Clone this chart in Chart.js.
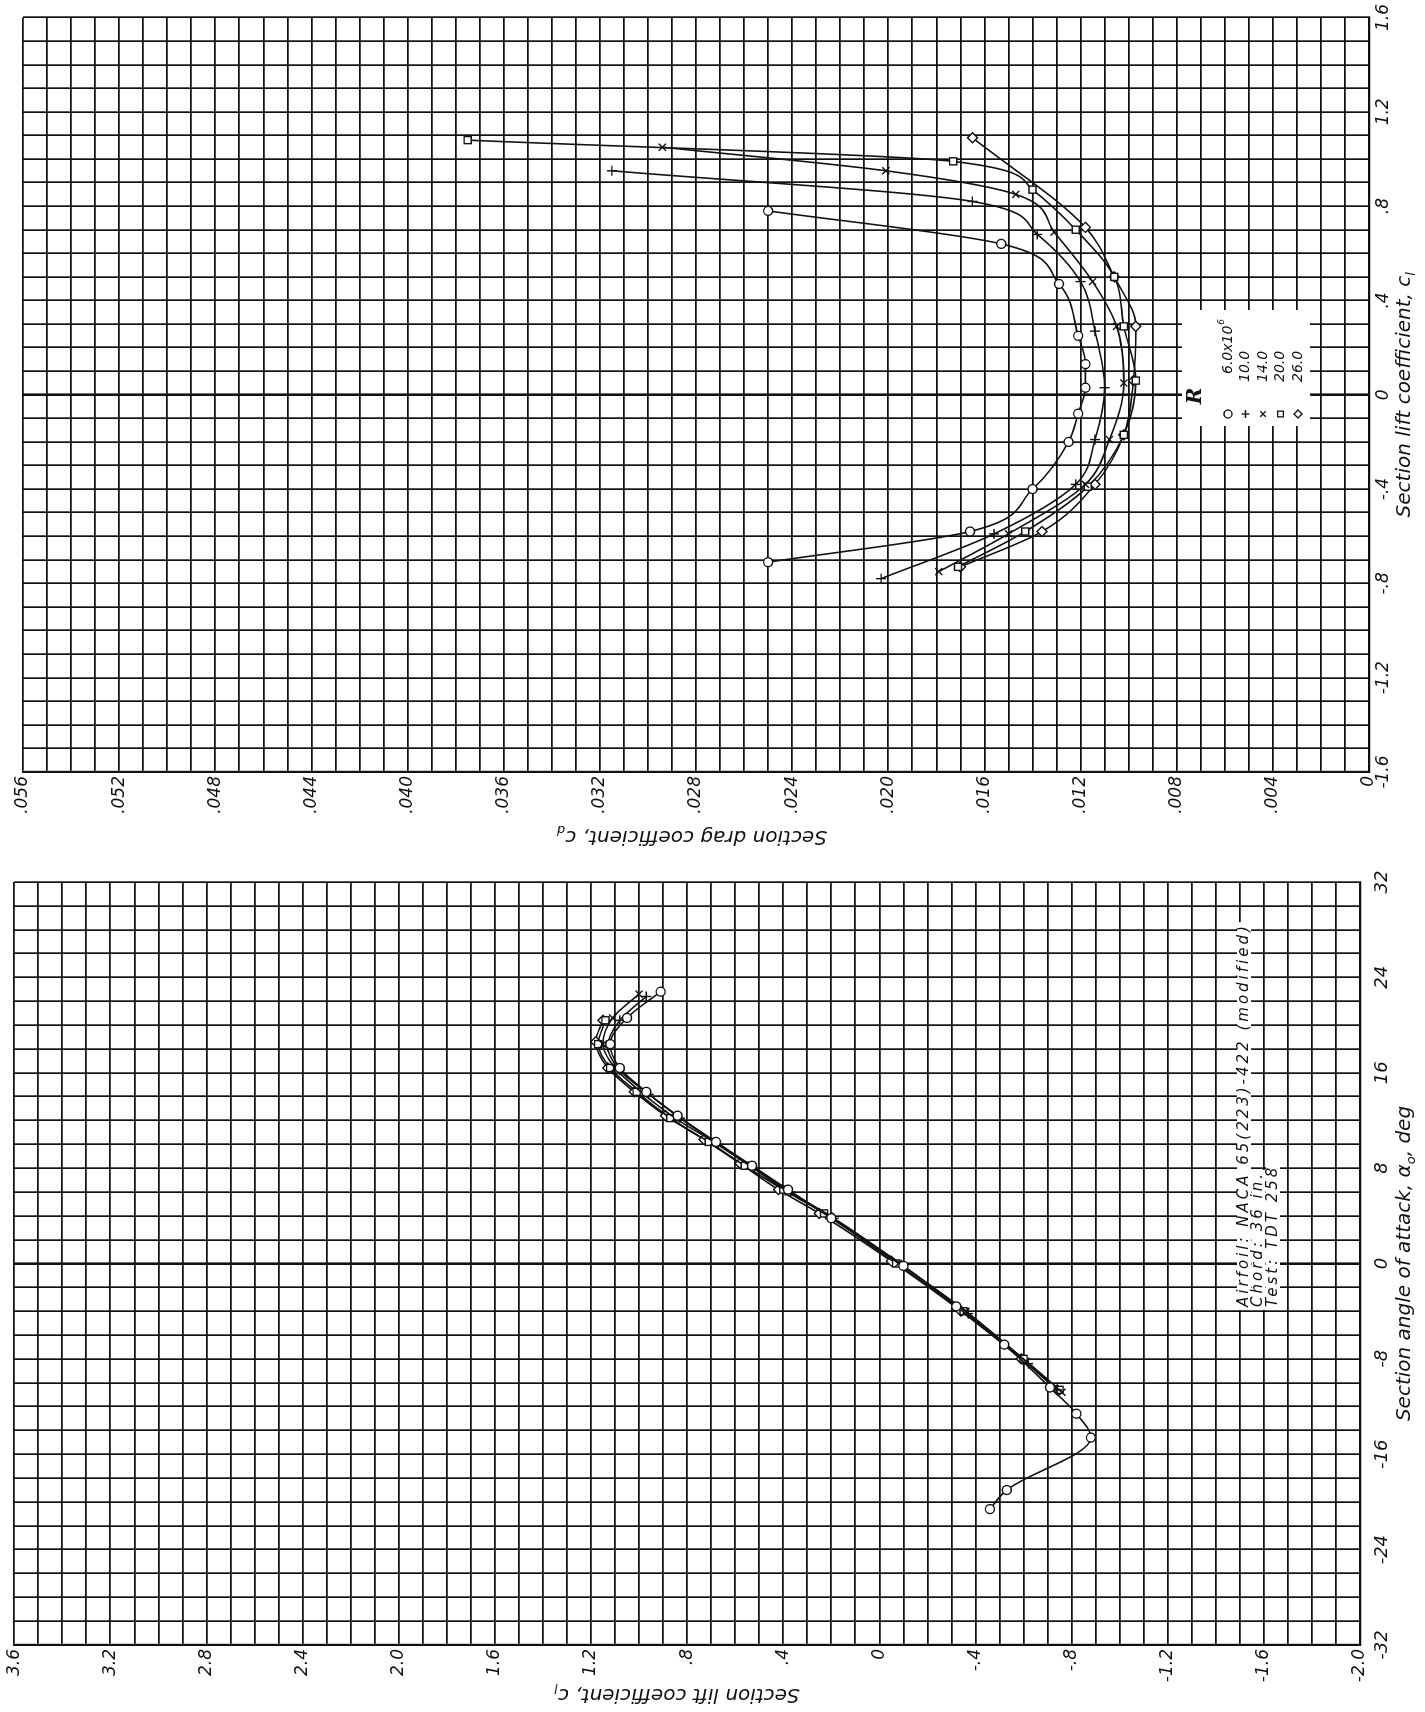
<!DOCTYPE html>
<html>
<head>
<meta charset="utf-8">
<script src="https://cdn.jsdelivr.net/npm/chart.js@4.4.1/dist/chart.umd.min.js"></script>
<style>
  html, body { margin: 0; padding: 0; background: #fff; }
  body { width: 1425px; height: 1712px; overflow: hidden; position: relative; }
  /* the sheet is drawn landscape and turned a quarter turn, like the printed page */
  #page { position: absolute; left: 0; top: 0; width: 1712px; height: 1425px;
          transform-origin: 0 0; transform: translate(0px, 1712px) rotate(-90deg); }
  #liftCanvas { position: absolute; left: 0; top: 0; }
  #dragCanvas { position: absolute; left: 860px; top: 0; }
</style>
</head>
<body>
<div id="page">
  <canvas id="liftCanvas" width="880" height="1425"></canvas>
  <canvas id="dragCanvas" width="852" height="1425"></canvas>
</div>
<script>
// ---- lift curves: angle of attack (deg) and section lift coefficient ----
const liftAlpha6  = [-20.6, -19.0, -14.6, -12.6, -10.4, -6.8, -3.6, -0.2, 3.8, 6.2, 8.2, 10.2, 12.4, 14.4, 16.4, 18.4, 20.6, 22.8];
const liftCl6     = [-0.46, -0.53, -0.88, -0.82, -0.71, -0.52, -0.32, -0.10, 0.20, 0.38, 0.53, 0.68, 0.84, 0.97, 1.08, 1.12, 1.05, 0.91];
const liftAlpha10 = [-10.6, -8.4, -4.2, -0.2, 3.8, 6.0, 8.0, 10.0, 12.2, 14.2, 16.2, 18.2, 20.4, 22.4];
const liftCl10    = [-0.74, -0.62, -0.37, -0.10, 0.19, 0.37, 0.52, 0.67, 0.83, 0.96, 1.08, 1.13, 1.08, 0.97];
const liftAlpha14 = [-10.8, -8.2, -4.0, 0.0, 4.0, 6.0, 8.2, 10.2, 12.2, 14.2, 16.4, 18.4, 20.6, 22.6];
const liftCl14    = [-0.76, -0.61, -0.36, -0.08, 0.21, 0.38, 0.54, 0.69, 0.85, 0.98, 1.10, 1.15, 1.11, 1.00];
const liftAlpha20 = [-10.6, -8.0, -4.0, 0.0, 4.2, 6.2, 8.2, 10.2, 12.2, 14.4, 16.4, 18.4, 20.4];
const liftCl20    = [-0.75, -0.60, -0.35, -0.07, 0.23, 0.40, 0.56, 0.71, 0.87, 1.01, 1.12, 1.17, 1.14];
const liftAlpha26 = [-10.6, -8.0, -4.0, 0.2, 4.2, 6.2, 8.4, 10.4, 12.4, 14.4, 16.4, 18.6, 20.4];
const liftCl26    = [-0.74, -0.59, -0.34, -0.05, 0.25, 0.42, 0.58, 0.73, 0.89, 1.02, 1.13, 1.18, 1.15];

// ---- drag polars: section lift coefficient and section drag coefficient ----
const polarCl6  = [-0.71, -0.58, -0.40, -0.20, -0.08, 0.03, 0.13, 0.25, 0.47, 0.64, 0.78];
const polarCd6  = [0.0250, 0.0166, 0.0140, 0.0125, 0.0121, 0.0118, 0.0118, 0.0121, 0.0129, 0.0153, 0.0250];
const polarCl10 = [-0.78, -0.59, -0.38, -0.19, 0.03, 0.27, 0.48, 0.68, 0.82, 0.95];
const polarCd10 = [0.0203, 0.0156, 0.0122, 0.0114, 0.0110, 0.0114, 0.0120, 0.0138, 0.0165, 0.0315];
const polarCl14 = [-0.75, -0.59, -0.38, -0.19, 0.05, 0.29, 0.48, 0.69, 0.85, 0.95, 1.05];
const polarCd14 = [0.0179, 0.0150, 0.0118, 0.0108, 0.0102, 0.0105, 0.0115, 0.0131, 0.0147, 0.0201, 0.0294];
const polarCl20 = [-0.73, -0.58, -0.39, -0.17, 0.06, 0.29, 0.50, 0.70, 0.87, 0.99, 1.08];
const polarCd20 = [0.0171, 0.0143, 0.0117, 0.0102, 0.0097, 0.0102, 0.0106, 0.0122, 0.0140, 0.0173, 0.0375];
const polarCl26 = [-0.73, -0.58, -0.38, -0.17, 0.06, 0.29, 0.50, 0.71, 1.09];
const polarCd26 = [0.0170, 0.0136, 0.0114, 0.0102, 0.0098, 0.0097, 0.0106, 0.0118, 0.0165];

// ---- legend and notes ----
const reynoldsLabels = ['6.0x10', '10.0', '14.0', '20.0', '26.0'];
const markerStyles = ['circle', 'cross', 'crossRot', 'rect', 'rectRot'];
const noteLines = ['Airfoil: NACA 65(223)-422 (modified)', 'Chord: 36 in.', 'Test: TDT 258'];

const FONT = 'DejaVu Sans';
const INK = '#111';

function fmtCoef(v) {
    // 0.8 -> ".8", -1.2 -> "-1.2", 2.0 -> "2.0"
    if (Math.abs(v) < 1e-9) return '0';
    let s = Math.abs(v).toFixed(1);
    if (s.startsWith('0')) s = s.slice(1);
    return (v < 0 ? '-' : '') + s;
}

function fmtDrag(v) {
    if (Math.abs(v) < 1e-9) return '0';
    return v.toFixed(3).slice(1);
}

function makeSeries(label, xs, ys, style) {
    return {
        label: label,
        data: xs.map((x, i) => ({ x: x, y: ys[i] })),
        showLine: true,
        borderColor: INK,
        borderWidth: 1.6,
        pointStyle: style,
        pointRadius: style === 'circle' ? 4.5 : 5,
        pointBackgroundColor: '#fff',
        pointBorderColor: INK,
        pointBorderWidth: 1.4,
        cubicInterpolationMode: 'monotone',
        fill: false
    };
}

// draw a label made of normal / subscript / superscript pieces, centred at (x, y)
function drawParts(ctx, parts, x, y, rot, size) {
    ctx.save();
    ctx.translate(x, y);
    ctx.rotate(rot);
    ctx.fillStyle = INK;
    ctx.textBaseline = 'middle';
    ctx.textAlign = 'left';
    const widths = parts.map(p => {
        ctx.font = 'italic ' + (p[1] === 'n' ? size : size * 0.65) + 'px "' + FONT + '"';
        return ctx.measureText(p[0]).width;
    });
    let cx = -widths.reduce((a, b) => a + b, 0) / 2;
    parts.forEach((p, i) => {
        const small = p[1] !== 'n';
        ctx.font = 'italic ' + (small ? size * 0.65 : size) + 'px "' + FONT + '"';
        const dy = p[1] === 'sub' ? size * 0.35 : (p[1] === 'sup' ? -size * 0.4 : 0);
        ctx.fillText(p[0], cx, dy);
        cx += widths[i];
    });
    ctx.restore();
}

function coefScale(min, max, fmt, step, every, font, heavyZero) {
    return {
        type: 'linear', min: min, max: max,
        grid: {
            color: INK, drawTicks: false,
            lineWidth: c => (heavyZero && Math.abs(c.tick.value) < 1e-9 ? 2.6 : 1.7)
        },
        border: { color: INK, width: 2.2 },
        ticks: {
            stepSize: step, autoSkip: false, maxTicksLimit: 200, maxRotation: 0,
            color: INK, font: { family: FONT, size: font, style: 'italic' },
            callback: v => (Math.abs(Math.round(v / step) % every) === 0 ? fmt(v) : '')
        }
    };
}

// ------------------- lift chart (left half of the sheet) -------------------
const liftNotes = {
    id: 'liftNotes',
    afterDraw(chart) {
        const ctx = chart.ctx;
        const a = chart.chartArea;
        drawParts(ctx, [['Section lift coefficient, c', 'n'], ['l', 'sub']], 18, 677, -Math.PI / 2, 20);
        drawParts(ctx, [['Section angle of attack, ', 'n'], ['\u03b1', 'n'], ['o', 'sub'], [', deg', 'n']],
            (a.left + a.right) / 2, 1405, 0, 20);
        // test notes with a white box behind each line
        ctx.save();
        ctx.font = 'italic 15px "' + FONT + '"';
        ctx.letterSpacing = '3px';
        ctx.textBaseline = 'middle';
        noteLines.forEach((t, i) => {
            const y = 1244 + i * 14.5;
            const w = ctx.measureText(t).width;
            ctx.fillStyle = '#fff';
            ctx.fillRect(402, y - 7, w + 4, 14);
            ctx.fillStyle = INK;
            ctx.fillText(t, 405, y);
        });
        ctx.restore();
    }
};

const liftX = coefScale(-32, 32, v => String(Math.round(v)), 2, 4, 18, true);
liftX.ticks.padding = 12;
liftX.afterFit = s => { s.height = 65; };
const liftY = coefScale(-2.0, 3.6, fmtCoef, 0.1, 4, 17, false);
liftY.ticks.padding = 4;
liftY.afterFit = s => { s.width = 67; };

new Chart(document.getElementById('liftCanvas'), {
    type: 'scatter',
    data: {
        datasets: [
            makeSeries('6.0', liftAlpha6, liftCl6, markerStyles[0]),
            makeSeries('10.0', liftAlpha10, liftCl10, markerStyles[1]),
            makeSeries('14.0', liftAlpha14, liftCl14, markerStyles[2]),
            makeSeries('20.0', liftAlpha20, liftCl20, markerStyles[3]),
            makeSeries('26.0', liftAlpha26, liftCl26, markerStyles[4])
        ]
    },
    options: {
        responsive: false,
        devicePixelRatio: 1,
        animation: false,
        layout: { padding: { left: 0, right: 50, top: 13, bottom: 0 } },
        plugins: { legend: { display: false }, tooltip: { enabled: false } },
        scales: { x: liftX, y: liftY }
    },
    plugins: [liftNotes]
});

// ------------------- drag polar (right half of the sheet) -------------------
const dragNotes = {
    id: 'dragNotes',
    afterDraw(chart) {
        const ctx = chart.ctx;
        const a = chart.chartArea;
        drawParts(ctx, [['Section drag coefficient, c', 'n'], ['d', 'sub']], 16, 692, -Math.PI / 2, 20);
        drawParts(ctx, [['Section lift coefficient, c', 'n'], ['l', 'sub']], (a.left + a.right) / 2, 1405, 0, 20);

        // legend box: R over the five Reynolds numbers
        ctx.save();
        ctx.fillStyle = '#fff';
        ctx.fillRect(426, 1182, 116, 128);
        ctx.fillStyle = INK;
        ctx.font = 'bold italic 20px "DejaVu Serif"';
        ctx.textBaseline = 'middle';
        ctx.textAlign = 'center';
        ctx.fillText('R', 456, 1196);
        ctx.textAlign = 'left';
        ctx.font = 'italic 14px "' + FONT + '"';
        reynoldsLabels.forEach((t, i) => {
            const y = 1228 + i * 17.5;
            ctx.strokeStyle = INK;
            ctx.fillStyle = '#fff';
            ctx.lineWidth = 1.3;
            Chart.helpers.drawPoint(ctx, {
                pointStyle: markerStyles[i], radius: 4, borderWidth: 1.3
            }, 438, y);
            ctx.fillStyle = INK;
            const x0 = i === 0 ? 478 : 470;
            ctx.fillText(t, x0, y);
            if (i === 0) {
                const w = ctx.measureText(t).width;
                ctx.font = 'italic 9px "' + FONT + '"';
                ctx.fillText('6', x0 + w + 1, y - 6);
                ctx.font = 'italic 14px "' + FONT + '"';
            }
        });
        ctx.restore();
    }
};

const dragX = coefScale(-1.6, 1.6, fmtCoef, 0.1, 4, 17, true);
dragX.ticks.padding = 4;
dragX.afterFit = s => { s.height = 56; };
const dragY = coefScale(0, 0.056, fmtDrag, 0.001, 4, 17, false);
dragY.ticks.padding = 4;
dragY.afterFit = s => { s.width = 80; };

new Chart(document.getElementById('dragCanvas'), {
    type: 'scatter',
    data: {
        datasets: [
            makeSeries('6.0', polarCl6, polarCd6, markerStyles[0]),
            makeSeries('10.0', polarCl10, polarCd10, markerStyles[1]),
            makeSeries('14.0', polarCl14, polarCd14, markerStyles[2]),
            makeSeries('20.0', polarCl20, polarCd20, markerStyles[3]),
            makeSeries('26.0', polarCl26, polarCd26, markerStyles[4])
        ]
    },
    options: {
        responsive: false,
        devicePixelRatio: 1,
        animation: false,
        layout: { padding: { left: 0, right: 12, top: 23, bottom: 0 } },
        plugins: { legend: { display: false }, tooltip: { enabled: false } },
        scales: { x: dragX, y: dragY }
    },
    plugins: [dragNotes]
});
</script>
</body>
</html>
